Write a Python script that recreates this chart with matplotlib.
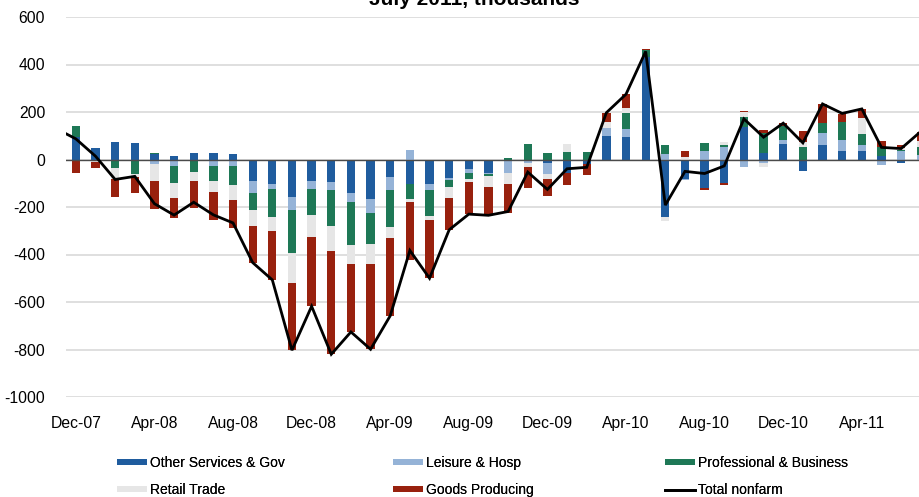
import numpy as np
import matplotlib
matplotlib.use("Agg")
import matplotlib.pyplot as plt
from matplotlib.lines import Line2D
from matplotlib.patches import Patch

plt.rcParams['font.family'] = ['Liberation Sans', 'DejaVu Sans']

# Months Dec-07 .. Jul-11 (44 months)
months = ["Dec-07", "Jan-08", "Feb-08", "Mar-08", "Apr-08", "May-08", "Jun-08", "Jul-08",
          "Aug-08", "Sep-08", "Oct-08", "Nov-08", "Dec-08", "Jan-09", "Feb-09", "Mar-09",
          "Apr-09", "May-09", "Jun-09", "Jul-09", "Aug-09", "Sep-09", "Oct-09", "Nov-09",
          "Dec-09", "Jan-10", "Feb-10", "Mar-10", "Apr-10", "May-10", "Jun-10", "Jul-10",
          "Aug-10", "Sep-10", "Oct-10", "Nov-10", "Dec-10", "Jan-11", "Feb-11", "Mar-11",
          "Apr-11", "May-11", "Jun-11", "Jul-11"]
tick_labels = ["Dec-07", "Apr-08", "Aug-08", "Dec-08", "Apr-09", "Aug-09",
               "Dec-09", "Apr-10", "Aug-10", "Dec-10", "Apr-11"]

other_gov = [95, 48, 74, 70, 22, 14, 29, 26, 22, -90, -104, -156, -90, -95, -142, -167,
             -72, -105, -105, -77, -39, -56, -8, -6, -13, -55, -20, 100, 95, 432,
             -244, -80, -118, -100, 138, 29, 66, -50, 60, 36, 35, 13, -15, 0]
leisure = [0, 0, 0, 0, -21, -27, -8, -28, -29, -51, -22, -55, -34, -35, -35, -59,
           -58, 41, -25, -11, -17, -5, -47, -10, -47, 0, 0, 32, 35, 0,
           22, -8, 36, 52, -31, -13, 15, 0, 53, 46, 27, -25, 36, 18]
professional = [47, 0, -37, -59, 5, -74, -46, -64, -77, -70, -114, -181, -109, -152, -184, -129,
                -154, -60, -108, -28, -25, -8, 5, 67, 26, 31, 32, 0, 67, 27,
                41, 0, 33, 8, 40, 84, 60, 52, 39, 74, 46, 38, 5, 34]
retail = [0, -11, -43, -14, -68, -61, -35, -43, -63, -69, -59, -129, -93, -104, -77, -86,
          -48, -14, -18, -44, -15, -46, -49, -15, -20, 36, 0, 24, 18, 0,
          -14, 12, -3, 15, 20, -18, 0, 23, 0, 0, 65, 0, 6, 27]
goods = [-57, -23, -77, -66, -121, -85, -117, -119, -121, -154, -208, -282, -292, -434, -288, -358,
         -327, -246, -243, -138, -133, -117, -120, -88, -73, -52, -46, 39, 59, 5,
         0, 24, -7, -6, 5, 10, 11, 43, 81, 36, 41, 25, 14, 38]
# Total nonfarm, Nov-07 .. Jul-11
total_nonfarm = [130, 87, 14, -84, -71, -186, -234, -180, -233, -267, -434, -507, -803, -618,
                 -820, -726, -799, -658, -383, -500, -296, -230, -235, -219, -53, -126, -39,
                 -33, 197, 275, 455, -192, -50, -59, -27, 171, 94, 153, 70, 234, 194, 213,
                 51, 46, 118]

series_names = ["Other Services & Gov", "Leisure & Hosp", "Professional & Business",
                "Retail Trade", "Goods Producing"]
colors = ["#1F5C9E", "#95B3D7", "#1E7856", "#E6E6E6", "#98210E"]

W, H = 920, 497
fig = plt.figure(figsize=(W / 100, H / 100), dpi=100)
ax_left, ax_right, ax_top, ax_bottom = 66, 930.6, 17, 397
ax = fig.add_axes([ax_left / W, 1 - ax_bottom / H, (ax_right - ax_left) / W, (ax_bottom - ax_top) / H])

x = np.arange(len(months))
pos_bottom = np.zeros(len(months))
neg_bottom = np.zeros(len(months))
handles = []
for vals, col, name in zip([other_gov, leisure, professional, retail, goods], colors, series_names):
    v = np.array(vals, dtype=float)
    bottom = np.where(v >= 0, pos_bottom, neg_bottom)
    ax.bar(x, v, bottom=bottom, width=0.42, color=col, linewidth=0, zorder=3)
    pos_bottom += np.clip(v, 0, None)
    neg_bottom += np.clip(v, None, 0)
    handles.append(Patch(facecolor=col, edgecolor='none', label=name))

x_line = np.arange(-1, len(months))
ax.plot(x_line, total_nonfarm, color='black', lw=2.0, zorder=5, solid_joinstyle='miter')
handles.append(Line2D([0], [0], color='black', lw=2.0, label="Total nonfarm"))

ax.set_xlim(-0.5, len(months) - 0.5)
ax.set_ylim(-1000, 600)
ax.set_yticks(np.arange(-1000, 601, 200))
ax.set_yticklabels([str(v) for v in np.arange(-1000, 601, 200)])
ax.set_xticks(np.arange(0, len(months), 4))
ax.set_xticklabels(tick_labels)
ax.tick_params(axis='y', length=0, pad=15, labelsize=11.3, colors='black')
ax.tick_params(axis='x', length=0, pad=14, labelsize=11.3, colors='black')
for s in ax.spines.values():
    s.set_visible(False)
ax.yaxis.grid(True, color='#D9D9D9', lw=1.2, zorder=0)
ax.set_axisbelow(True)
ax.axhline(0, color='#4A4A4A', lw=1.0, zorder=4)

# Legend: three columns, two rows
col_x = [117, 393, 665]
pairs = [(handles[0], handles[3]), (handles[1], handles[4]), (handles[2], handles[5])]
for cx, (h1, h2) in zip(col_x, pairs):
    leg = fig.legend(handles=[h1, h2], loc='upper left',
                     bbox_to_anchor=(cx / W, 1 - 456 / H), frameon=False,
                     fontsize=10, handlelength=2.15, handleheight=0.3,
                     handletextpad=0.2, borderpad=0, borderaxespad=0,
                     labelspacing=0.95)
    fig.add_artist(leg)

fig.text(474 / W, 1 - 5 / H, "July 2011, thousands", ha='center', va='baseline',
         fontsize=15, fontweight='bold')

fig.savefig("out.png", dpi=100)
